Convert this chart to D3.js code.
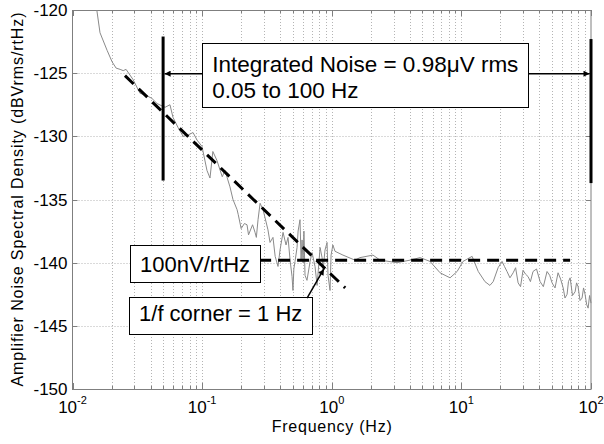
<!DOCTYPE html>
<html>
<head>
<meta charset="utf-8">
<script src="https://cdn.jsdelivr.net/npm/d3@7"></script>
<style>
  body { margin: 0; background: #fff; }
  svg { display: block; font-family: Arial, "Liberation Sans", sans-serif; }
</style>
</head>
<body>
<svg width="604" height="444"></svg>
<script>
// measured noise spectrum (Hz, dBV/rtHz)
var noiseFreq = [0.0154,0.0163,0.0185,0.0202,0.0217,0.0233,0.0246,0.0259,0.0293,0.0332,
  0.0362,0.0410,0.0449,0.0491,0.0518,0.0565,0.0596,0.0652,0.0713,0.0778,
  0.0851,0.0914,0.0998,0.109,0.115,0.121,0.130,0.143,0.150,0.164,
  0.173,0.186,0.190,0.200,0.212,0.222,0.228,0.245,0.256,0.262,0.270,0.280,0.295,
  0.305,0.322,0.334,0.352,0.366,0.385,0.399,0.421,0.444,0.460,
  0.477,0.494,0.502,0.510,0.521,0.540,0.550,0.569,0.580,0.590,0.601,0.610,0.622,0.644,
  0.681,0.705,0.743,0.771,0.813,0.842,0.857,0.887,0.920,0.936,
  0.970,0.988,1.02,1.06,1.22,1.51,1.65,2.08,2.36,3.19,
  4.02,4.80,5.73,6.85,7.48,8.18,9.27,10.3,12.1,13.5,
  15.2,16.6,17.6,19.2,20.6,21.5,22.5,23.7,25.1,26.2,27.4,28.6,29.9,31.2,32.7,34.1,
  35.7,38.0,40.5,42.9,45.8,48.0,50.1,52.8,55.7,58.3,61.0,63.0,65.4,67.0,69.0,72.0,
  75.4,77.4,79.5,82.3,85.3,87.6,90.0,92.5,95.0,97.5,100];
var noiseDb = [-120.0,-121.8,-123.2,-124.1,-124.6,-124.7,-124.8,-124.7,-125.5,-126.6,
  -126.7,-127.0,-127.4,-127.6,-127.7,-127.5,-128.5,-129.3,-130.0,-129.9,
  -129.7,-130.3,-130.8,-132.7,-133.3,-131.2,-131.9,-133.2,-132.7,-134.0,
  -135.0,-135.8,-136.2,-137.3,-136.9,-137.0,-137.8,-137.0,-137.6,-138.0,-136.6,-135.3,-135.8,
  -136.4,-137.4,-138.4,-138.0,-139.5,-140.3,-139.0,-137.6,-138.6,-138.0,
  -139.8,-141.1,-142.2,-140.5,-139.9,-138.8,-137.5,-136.6,-139.8,-138.2,-140.0,-137.5,-141.0,-141.4,
  -139.9,-139.2,-140.3,-141.8,-138.8,-139.6,-140.6,-139.0,-138.4,-141.0,
  -142.2,-139.4,-138.6,-139.1,-139.4,-139.8,-139.6,-139.4,-139.8,-140.0,
  -139.8,-139.6,-139.9,-140.8,-141.0,-141.2,-140.7,-139.9,-139.5,-140.7,
  -141.5,-141.8,-141.5,-140.4,-139.9,-140.3,-140.7,-141.2,-140.8,-140.4,-141.6,-141.9,-140.6,-140.9,-141.1,-141.5,
  -140.7,-140.5,-141.5,-141.9,-140.7,-141.0,-141.6,-142.0,-140.8,-141.3,-142.0,-142.8,-142.5,-141.5,-141.2,-142.6,
  -142.3,-141.6,-141.9,-143.0,-142.8,-142.0,-142.5,-143.3,-143.6,-142.6,-143.2];

// axis ticks
var yTicks = [-150, -145, -140, -135, -130, -125, -120];
var xDecades = [-2, -1, 0, 1, 2];

// annotation lines: 1/f fit, white noise floor, integration limits
var oneOverF = [[0.0254, -125.2], [1.27, -142.0]];
var whiteFloor = [[0.1, -139.8], [69, -139.8]];
var limitLow = [[0.05, -122.1], [0.05, -133.5]];
var limitHigh = [[100, -122.3], [100, -133.7]];
var cornerArrow = [[0.645, -142.8], [0.87, -140.5]];

var svg = d3.select("svg");
var plotL = 72.5, plotR = 591, plotT = 10, plotB = 389;

var x = d3.scaleLog().domain([0.01, 100]).range([plotL, plotR]);
var y = d3.scaleLinear().domain([-150, -120]).range([plotB, plotT]);

var defs = svg.append("defs");
defs.append("marker")
    .attr("id", "arrow")
    .attr("viewBox", "0 0 10 10")
    .attr("refX", 10).attr("refY", 5)
    .attr("markerWidth", 8).attr("markerHeight", 6)
    .attr("markerUnits", "userSpaceOnUse")
    .attr("orient", "auto")
  .append("path")
    .attr("d", "M0,0L10,5L0,10z")
    .attr("fill", "#000");

// grid
var minor = [];
xDecades.forEach(function(d) {
  for (var k = 1; k <= 9; k++) {
    var v = k * Math.pow(10, d);
    if (v <= 100) minor.push(v);
  }
});

svg.append("g")
  .selectAll("line")
  .data(minor.filter(function(v) { return v > 0.01 && v < 100; }))
  .enter().append("line")
    .attr("x1", function(d) { return Math.round(x(d)) + 0.5; })
    .attr("x2", function(d) { return Math.round(x(d)) + 0.5; })
    .attr("y1", plotT).attr("y2", plotB)
    .attr("stroke", "#b4b4b4")
    .attr("stroke-dasharray", "1,2");

svg.append("g")
  .selectAll("line")
  .data(yTicks.slice(1, -1))
  .enter().append("line")
    .attr("x1", plotL).attr("x2", plotR)
    .attr("y1", function(d) { return Math.round(y(d)) + 0.5; })
    .attr("y2", function(d) { return Math.round(y(d)) + 0.5; })
    .attr("stroke", "#b4b4b4")
    .attr("stroke-dasharray", "1,2");

// inward ticks
var tickG = svg.append("g").attr("stroke", "#7f7f7f");
minor.forEach(function(v) {
  var len = Number.isInteger(Math.log10(v)) ? 6 : 3;
  var px = Math.round(x(v)) + 0.5;
  tickG.append("line").attr("x1", px).attr("x2", px).attr("y1", plotB).attr("y2", plotB - len);
  tickG.append("line").attr("x1", px).attr("x2", px).attr("y1", plotT).attr("y2", plotT + len);
});
yTicks.forEach(function(v) {
  var py = Math.round(y(v)) + 0.5;
  tickG.append("line").attr("x1", plotL).attr("x2", plotL + 5).attr("y1", py).attr("y2", py);
  tickG.append("line").attr("x1", plotR).attr("x2", plotR - 5).attr("y1", py).attr("y2", py);
});

svg.append("rect")
    .attr("x", plotL).attr("y", plotT + 0.5)
    .attr("width", plotR - plotL).attr("height", plotB - plotT)
    .attr("fill", "none")
    .attr("stroke", "#7f7f7f");

// tick labels
svg.append("g")
  .selectAll("text")
  .data(yTicks)
  .enter().append("text")
    .attr("x", plotL - 5)
    .attr("y", function(d) { return y(d); })
    .attr("dy", "0.36em")
    .attr("text-anchor", "end")
    .attr("font-size", 17)
    .text(function(d) { return d; });

var xLab = svg.append("g")
  .selectAll("text")
  .data(xDecades)
  .enter().append("text")
    .attr("x", function(d) { return x(Math.pow(10, d)); })
    .attr("y", 413)
    .attr("text-anchor", "middle")
    .attr("font-size", 17);
xLab.append("tspan").text("10");
xLab.append("tspan")
    .attr("dy", -9)
    .attr("font-size", 11)
    .text(function(d) { return d; });

svg.append("text")
    .attr("x", (plotL + plotR) / 2)
    .attr("y", 432)
    .attr("text-anchor", "middle")
    .attr("font-size", 16)
    .attr("textLength", 120)
    .text("Frequency (Hz)");

svg.append("text")
    .attr("transform", "translate(23," + ((plotT + plotB) / 2) + ") rotate(-90)")
    .attr("text-anchor", "middle")
    .attr("font-size", 16)
    .attr("textLength", 374)
    .text("Amplifier Noise Spectral Density (dBVrms/rtHz)");

// noise curve
var line = d3.line()
    .x(function(d) { return x(d[0]); })
    .y(function(d) { return y(d[1]); });

svg.append("path")
    .datum(noiseFreq.map(function(f, i) { return [f, noiseDb[i]]; }))
    .attr("d", line)
    .attr("fill", "none")
    .attr("stroke", "#8a8a8a")
    .attr("stroke-width", 1);

// dashed fits
[oneOverF, whiteFloor].forEach(function(seg) {
  svg.append("path")
      .datum(seg)
      .attr("d", line)
      .attr("stroke", "#000")
      .attr("stroke-width", 3)
      .attr("stroke-dasharray", "12,7");
});

// integration limits
[limitLow, limitHigh].forEach(function(seg) {
  svg.append("path")
      .datum(seg)
      .attr("d", line)
      .attr("stroke", "#000")
      .attr("stroke-width", 3);
});

// text boxes
function textBox(lines, fx, db, lineH, padTop, padBottom, size) {
  var g = svg.append("g");
  var tx = x(fx) + 10, ty = y(db);
  var t = g.append("text").attr("font-size", size).attr("fill", "#000");
  lines.forEach(function(s, i) {
    t.append("tspan").attr("x", tx).attr("y", ty + i * lineH).text(s);
  });
  var w = d3.max(t.selectAll("tspan").nodes(), function(n) { return n.getComputedTextLength(); });
  var bx = x(fx), by = ty - padTop;
  g.insert("rect", "text")
      .attr("x", Math.round(bx) + 0.5).attr("y", Math.round(by) + 0.5)
      .attr("width", Math.round(w + 20))
      .attr("height", Math.round(padTop + (lines.length - 1) * lineH + padBottom))
      .attr("fill", "#fff")
      .attr("stroke", "#000");
  return { left: bx, right: bx + w + 20 };
}

var intBox = textBox(["Integrated Noise = 0.98\u03bcV rms", "0.05 to 100 Hz"], 0.1, -124.9, 26, 29, 9, 22.5);
textBox(["100nV/rtHz"], 0.0278, -140.7, 0, 27, 10, 22);
textBox(["1/f corner = 1 Hz"], 0.0273, -144.65, 0, 24, 13, 22);

// arrows
var arrowY = y(-125) + 0.5;
svg.append("line")
    .attr("x1", intBox.left).attr("x2", x(0.05) + 1.5)
    .attr("y1", arrowY).attr("y2", arrowY)
    .attr("stroke", "#000").attr("stroke-width", 1.5)
    .attr("marker-end", "url(#arrow)");
svg.append("line")
    .attr("x1", intBox.right).attr("x2", x(100) - 1.5)
    .attr("y1", arrowY).attr("y2", arrowY)
    .attr("stroke", "#000").attr("stroke-width", 1.5)
    .attr("marker-end", "url(#arrow)");
svg.append("path")
    .datum(cornerArrow)
    .attr("d", line)
    .attr("stroke", "#000").attr("stroke-width", 1.5)
    .attr("marker-end", "url(#arrow)");
</script>
</body>
</html>
